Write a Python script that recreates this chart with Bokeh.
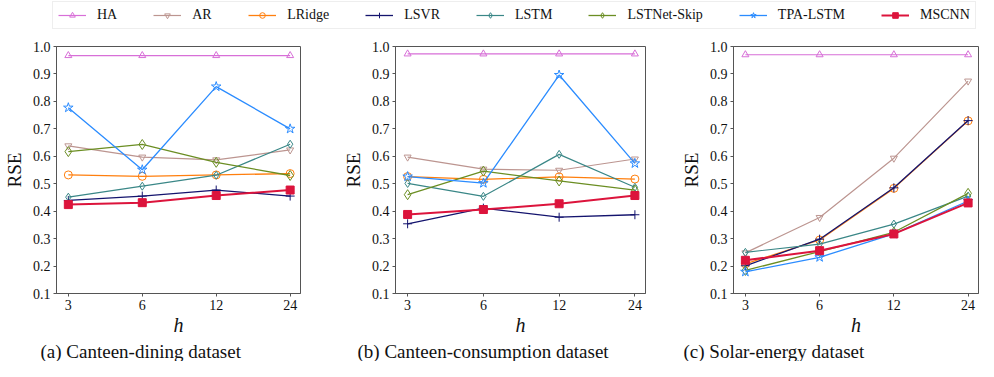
from bokeh.plotting import figure
from bokeh.models import (Range1d, FixedTicker, Legend, LegendItem, Title)
from bokeh.layouts import column, row
from bokeh.embed import file_html
from bokeh.resources import INLINE

# ---------------- data ----------------
h = ["3", "6", "12", "24"]
methods = ["HA", "AR", "LRidge", "LSVR", "LSTM", "LSTNet-Skip", "TPA-LSTM", "MSCNN"]

# (a) Canteen-dining
ha_a = [0.967, 0.967, 0.967, 0.967]
ar_a = [0.638, 0.597, 0.587, 0.623]
lridge_a = [0.532, 0.527, 0.532, 0.537]
lsvr_a = [0.439, 0.455, 0.477, 0.455]
lstm_a = [0.451, 0.491, 0.531, 0.644]
lstnet_a = [0.617, 0.643, 0.578, 0.530]
tpa_a = [0.777, 0.551, 0.854, 0.700]
mscnn_a = [0.424, 0.431, 0.457, 0.477]

# (b) Canteen-consumption
ha_b = [0.973, 0.973, 0.973, 0.973]
ar_b = [0.597, 0.553, 0.549, 0.590]
lridge_b = [0.526, 0.516, 0.525, 0.517]
lsvr_b = [0.354, 0.411, 0.378, 0.387]
lstm_b = [0.501, 0.454, 0.607, 0.487]
lstnet_b = [0.460, 0.546, 0.510, 0.477]
tpa_b = [0.526, 0.502, 0.896, 0.574]
mscnn_b = [0.388, 0.406, 0.427, 0.457]

# (c) Solar-energy
ha_c = [0.970, 0.970, 0.970, 0.970]
ar_c = [0.248, 0.377, 0.593, 0.874]
lridge_c = [0.208, 0.295, 0.483, 0.729]
lsvr_c = [0.201, 0.298, 0.485, 0.730]
lstm_c = [0.250, 0.280, 0.353, 0.455]
lstnet_c = [0.184, 0.253, 0.323, 0.465]
tpa_c = [0.179, 0.232, 0.317, 0.437]
mscnn_c = [0.221, 0.256, 0.317, 0.430]

y_ticks = [0.1, 0.2, 0.3, 0.4, 0.5, 0.6, 0.7, 0.8, 0.9, 1.0]
captions = ["(a) Canteen-dining dataset", "(b) Canteen-consumption dataset", "(c) Solar-energy dataset"]

panels = [
    [ha_a, ar_a, lridge_a, lsvr_a, lstm_a, lstnet_a, tpa_a, mscnn_a],
    [ha_b, ar_b, lridge_b, lsvr_b, lstm_b, lstnet_b, tpa_b, mscnn_b],
    [ha_c, ar_c, lridge_c, lsvr_c, lstm_c, lstnet_c, tpa_c, mscnn_c],
]

# ---------------- styles ----------------
SERIF = "Liberation Serif"
styles = {
    "HA":          dict(color="#d86fd8", marker="triangle", size=7, filled=False, lw=1.2),
    "AR":          dict(color="#bc9590", marker="inverted_triangle", size=7, filled=False, lw=1.2),
    "LRidge":      dict(color="#ff7f0e", marker="circle", size=8, filled=False, lw=1.3),
    "LSVR":        dict(color="#14146e", marker="cross", size=9, filled=False, lw=1.3),
    "LSTM":        dict(color="#3a8787", marker="diamond", size=8, filled=False, lw=1.2),
    "LSTNet-Skip": dict(color="#6b8e23", marker="diamond", size=10, filled=False, lw=1.3),
    "TPA-LSTM":    dict(color="#2b8cff", marker="star", size=10, filled=False, lw=1.3),
    "MSCNN":       dict(color="#dc143c", marker="square", size=8, filled=True, lw=2.0),
}


def draw_series(p, xs, ys, name):
    st = styles[name]
    ln = p.line(xs, ys, line_color=st["color"], line_width=st["lw"])
    sc = p.scatter(xs, ys, marker=st["marker"], size=st["size"], line_color=st["color"],
                   line_width=1.0, fill_color=st["color"],
                   fill_alpha=1.0 if st["filled"] else 0.0)
    return ln, sc


# frame geometry (pixels)
TOP = 12
ROW_H = 327
BOTTOM = 68
lefts = [52, 86, 80]
frame_ws = [248, 250, 245]
rights = [9, 8, 1]
cap_offsets = [-16, -38, -50]

figs = []
xs = list(range(len(h)))
for k, series in enumerate(panels):
    p = figure(width=lefts[k] + frame_ws[k] + rights[k], height=ROW_H,
               x_range=Range1d(-0.16, len(h) - 1 + 0.14), y_range=Range1d(0.1, 1.0),
               output_backend="svg", toolbar_location=None,
               min_border_left=lefts[k], min_border_right=rights[k],
               min_border_top=TOP, min_border_bottom=BOTTOM)
    p.outline_line_color = "#555555"
    p.outline_line_width = 1
    p.grid.visible = False
    p.background_fill_color = "white"
    p.border_fill_color = "white"

    p.xaxis.ticker = FixedTicker(ticks=xs)
    p.xaxis.major_label_overrides = {i: lab for i, lab in enumerate(h)}
    p.yaxis.ticker = FixedTicker(ticks=y_ticks)
    p.yaxis.major_label_overrides = {t: f"{t:.1f}" for t in y_ticks}
    p.axis.axis_line_color = "#555555"
    p.axis.major_tick_line_color = "#555555"
    p.axis.major_tick_in = 0
    p.axis.major_tick_out = 3
    p.axis.minor_tick_line_color = None
    p.axis.major_label_text_font = SERIF
    p.axis.major_label_text_font_size = "14px"
    p.axis.major_label_text_color = "#111111"
    p.axis.axis_label_text_font = SERIF
    p.axis.axis_label_text_color = "#111111"
    p.yaxis.major_label_standoff = 3
    p.xaxis.major_label_standoff = 3
    p.yaxis.axis_label = "RSE"
    p.yaxis.axis_label_text_font_size = "19px"
    p.yaxis.axis_label_text_font_style = "normal"
    p.yaxis.axis_label_standoff = 5
    p.xaxis.axis_label = "h"
    p.xaxis.axis_label_text_font_size = "20px"
    p.xaxis.axis_label_text_font_style = "italic"
    p.xaxis.axis_label_standoff = 1

    for name, ys in zip(methods, series):
        draw_series(p, xs, ys, name)

    cap = Title(text=captions[k], align="left", offset=cap_offsets[k], text_font=SERIF,
                text_font_size="19px", text_font_style="normal", text_color="#111111",
                standoff=0)
    p.add_layout(cap, "below")
    figs.append(p)

# ---------------- legend strip ----------------
TOTAL_W = sum(f.width for f in figs)
# legend proxies reuse panel (a) data but sit outside this strip's visible range
lg = figure(width=TOTAL_W, height=34, x_range=Range1d(100, 101), y_range=Range1d(100, 101),
            output_backend="svg", toolbar_location=None, min_border=0)
lg.axis.visible = False
lg.grid.visible = False
lg.outline_line_color = None
items = []
for name, ys in zip(methods, panels[0]):
    ln, sc = draw_series(lg, xs, ys, name)
    items.append(LegendItem(label=name, renderers=[ln, sc]))
legend = Legend(items=items, orientation="horizontal", location=(52, 5),
                label_text_font=SERIF, label_text_font_size="14px", label_text_color="#111111",
                glyph_width=28, glyph_height=14, label_standoff=11, spacing=36,
                padding=5, margin=0, border_line_color="#dddddd", border_line_width=1,
                background_fill_color="white", label_height=14)
lg.add_layout(legend, "center")

layout = column(lg, row(*figs, spacing=0), spacing=0)

open("out.html", "w").write(file_html(layout, INLINE))
